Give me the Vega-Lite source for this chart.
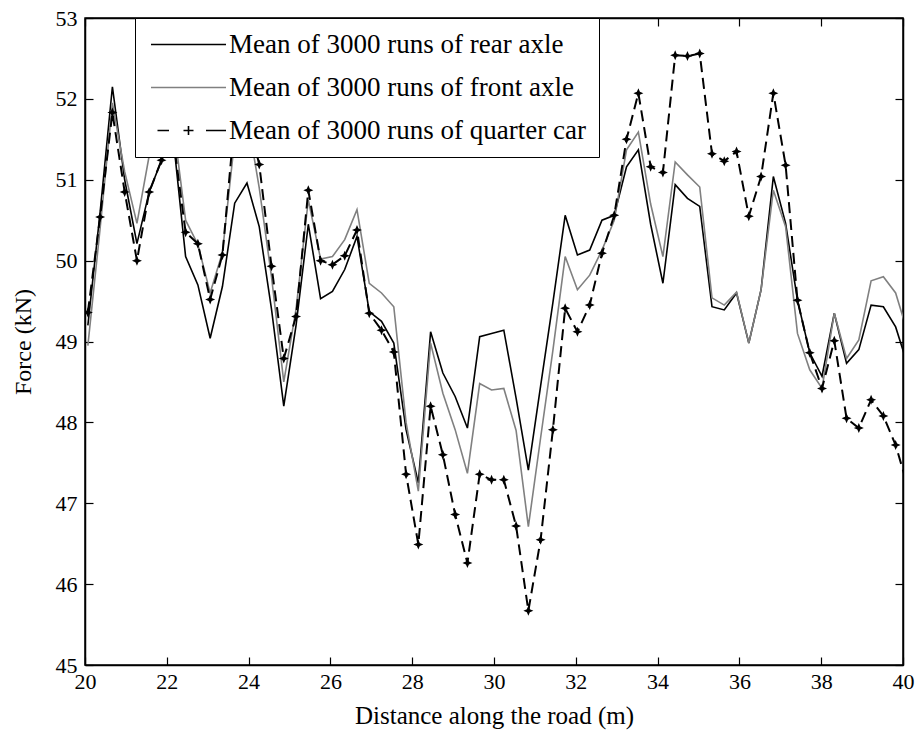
{
  "$schema": "https://vega.github.io/schema/vega-lite/v6.json",
  "width": 818,
  "height": 647,
  "autosize": {"type": "none"},
  "padding": {"left": 85, "top": 18, "right": 14, "bottom": 67},
  "background": "white",
  "config": {
    "view": {"stroke": "black", "strokeWidth": 1.5},
    "font": "Liberation Serif",
    "axis": {
      "grid": false,
      "domainColor": "black",
      "domainWidth": 1.5,
      "tickColor": "black",
      "tickWidth": 1.2,
      "tickSize": -8,
      "labelFont": "Liberation Serif",
      "labelFontSize": 22,
      "labelColor": "black",
      "titleFont": "Liberation Serif",
      "titleFontWeight": "normal",
      "titleColor": "black"
    }
  },
  "data": {
    "values": [
      {"x": 20.07, "rear": 49.2, "front": 48.95, "quarter": 49.36},
      {"x": 20.37, "rear": 50.6, "front": 50.4, "quarter": 50.54},
      {"x": 20.67, "rear": 52.15, "front": 51.95, "quarter": 51.83},
      {"x": 20.97, "rear": 51.0, "front": 51.1, "quarter": 50.85},
      {"x": 21.27, "rear": 50.21, "front": 50.46, "quarter": 50.0},
      {"x": 21.57, "rear": 50.85, "front": 51.3, "quarter": 50.85},
      {"x": 21.87, "rear": 51.24, "front": 51.6, "quarter": 51.24},
      {"x": 22.16, "rear": 51.5, "front": 51.7, "quarter": 51.5},
      {"x": 22.46, "rear": 50.05, "front": 50.5, "quarter": 50.35},
      {"x": 22.76, "rear": 49.7, "front": 50.2, "quarter": 50.21},
      {"x": 23.06, "rear": 49.04, "front": 49.6, "quarter": 49.52},
      {"x": 23.36, "rear": 49.68, "front": 50.1, "quarter": 50.07},
      {"x": 23.66, "rear": 50.71, "front": 51.5, "quarter": 51.75},
      {"x": 23.96, "rear": 50.96, "front": 51.8, "quarter": 51.8},
      {"x": 24.26, "rear": 50.42, "front": 50.9, "quarter": 51.19},
      {"x": 24.56, "rear": 49.4, "front": 49.8, "quarter": 49.93},
      {"x": 24.86, "rear": 48.2, "front": 48.5, "quarter": 48.79},
      {"x": 25.16, "rear": 49.2, "front": 49.4, "quarter": 49.31},
      {"x": 25.46, "rear": 50.45, "front": 50.75, "quarter": 50.87},
      {"x": 25.76, "rear": 49.53, "front": 50.02, "quarter": 50.0},
      {"x": 26.05, "rear": 49.62, "front": 50.05, "quarter": 49.95},
      {"x": 26.35, "rear": 49.89, "front": 50.26, "quarter": 50.06},
      {"x": 26.65, "rear": 50.3, "front": 50.63, "quarter": 50.38},
      {"x": 26.95, "rear": 49.37, "front": 49.72, "quarter": 49.35},
      {"x": 27.25, "rear": 49.25, "front": 49.6, "quarter": 49.14},
      {"x": 27.55, "rear": 48.98, "front": 49.43, "quarter": 48.87},
      {"x": 27.85, "rear": 47.91, "front": 48.0, "quarter": 47.36},
      {"x": 28.15, "rear": 47.25, "front": 47.15, "quarter": 46.49},
      {"x": 28.45, "rear": 49.12, "front": 48.98, "quarter": 48.2},
      {"x": 28.75, "rear": 48.61, "front": 48.36, "quarter": 47.6},
      {"x": 29.05, "rear": 48.32, "front": 47.91, "quarter": 46.86},
      {"x": 29.35, "rear": 47.93, "front": 47.37, "quarter": 46.26},
      {"x": 29.65, "rear": 49.06, "front": 48.48, "quarter": 47.36},
      {"x": 29.94, "rear": 49.1, "front": 48.4, "quarter": 47.29},
      {"x": 30.24, "rear": 49.14, "front": 48.42, "quarter": 47.29},
      {"x": 30.54, "rear": 48.3, "front": 47.9, "quarter": 46.72},
      {"x": 30.84, "rear": 47.41, "front": 46.71, "quarter": 45.67},
      {"x": 31.14, "rear": 48.45, "front": 47.81, "quarter": 46.55},
      {"x": 31.44, "rear": 49.48, "front": 48.89, "quarter": 47.91},
      {"x": 31.74, "rear": 50.56, "front": 50.05, "quarter": 49.41},
      {"x": 32.04, "rear": 50.07, "front": 49.64, "quarter": 49.12},
      {"x": 32.34, "rear": 50.13, "front": 49.82, "quarter": 49.45},
      {"x": 32.64, "rear": 50.5, "front": 50.13, "quarter": 50.09},
      {"x": 32.94, "rear": 50.56, "front": 50.5, "quarter": 50.56},
      {"x": 33.24, "rear": 51.16, "front": 51.37, "quarter": 51.5},
      {"x": 33.53, "rear": 51.37, "front": 51.59, "quarter": 52.07},
      {"x": 33.83, "rear": 50.45, "front": 50.7, "quarter": 51.16},
      {"x": 34.13, "rear": 49.72, "front": 50.05, "quarter": 51.09},
      {"x": 34.43, "rear": 50.94, "front": 51.22, "quarter": 52.54},
      {"x": 34.73, "rear": 50.77, "front": 51.06, "quarter": 52.53},
      {"x": 35.03, "rear": 50.67, "front": 50.91, "quarter": 52.56},
      {"x": 35.33, "rear": 49.43, "front": 49.54, "quarter": 51.32},
      {"x": 35.63, "rear": 49.39, "front": 49.45, "quarter": 51.23},
      {"x": 35.93, "rear": 49.6, "front": 49.61, "quarter": 51.35},
      {"x": 36.23, "rear": 48.98, "front": 48.98, "quarter": 50.55},
      {"x": 36.53, "rear": 49.64, "front": 49.64, "quarter": 51.04},
      {"x": 36.83, "rear": 51.04, "front": 50.87, "quarter": 52.07},
      {"x": 37.13, "rear": 50.46, "front": 50.42, "quarter": 51.18},
      {"x": 37.42, "rear": 49.51, "front": 49.1, "quarter": 49.51},
      {"x": 37.72, "rear": 48.86, "front": 48.65, "quarter": 48.86},
      {"x": 38.02, "rear": 48.57, "front": 48.42, "quarter": 48.42},
      {"x": 38.32, "rear": 49.35, "front": 49.35, "quarter": 49.01},
      {"x": 38.62, "rear": 48.73, "front": 48.79, "quarter": 48.05},
      {"x": 38.92, "rear": 48.9, "front": 49.02, "quarter": 47.93},
      {"x": 39.22, "rear": 49.45, "front": 49.75, "quarter": 48.28},
      {"x": 39.52, "rear": 49.43, "front": 49.8, "quarter": 48.08},
      {"x": 39.82, "rear": 49.18, "front": 49.6, "quarter": 47.72},
      {"x": 40.12, "rear": 48.7, "front": 49.1, "quarter": 47.2}
    ]
  },
  "transform": [{"fold": ["rear", "front", "quarter"], "as": ["series", "force"]}],
  "layer": [
    {
      "transform": [{"filter": "datum.series !== 'quarter'"}],
      "mark": {"type": "line", "clip": true, "strokeWidth": 1.6},
      "encoding": {
        "x": {"field": "x", "type": "quantitative", "scale": {"domain": [20, 40], "nice": false, "zero": false},
              "axis": {"orient": "bottom", "values": [20, 22, 24, 26, 28, 30, 32, 34, 36, 38, 40], "title": "Distance along the road (m)", "titleFontSize": 25, "labelPadding": 14, "titlePadding": 11, "labelFlush": false}},
        "y": {"field": "force", "type": "quantitative", "scale": {"domain": [45, 53], "nice": false, "zero": false},
              "axis": {"orient": "left", "values": [45, 46, 47, 48, 49, 50, 51, 52, 53], "title": "Force (kN)", "titleFontSize": 24, "labelPadding": 16, "titlePadding": 20, "labelFlush": false}},
        "color": {
          "field": "series", "type": "nominal",
          "scale": {"domain": ["rear", "front", "quarter"], "range": ["black", "#808080", "black"]},
          "legend": {
            "title": null,
            "orient": "none",
            "legendX": 50,
            "legendY": 0,
            "padding": 13,
            "rowPadding": 15,
            "symbolSize": 400,
            "symbolOffset": 27,
            "symbolStrokeWidth": 1.6,
            "labelFont": "Liberation Serif",
            "labelFontSize": 27,
            "labelColor": "black",
            "labelOffset": 27,
            "labelLimit": 600,
            "strokeColor": "black",
            "fillColor": "white",
            "zindex": 2,
            "labelExpr": "datum.value === 'rear' ? 'Mean of 3000 runs of rear axle' : datum.value === 'front' ? 'Mean of 3000 runs of front axle' : 'Mean of 3000 runs of quarter car'",
            "encode": {
              "symbols": {
                "update": {
                  "shape": {"signal": "datum.value === 'quarter' ? 'M-3.1,0L-1.95,0M-0.5,0L0.5,0M0,-0.45L0,0.45M1.75,0L3.75,0' : 'M-3.75,0L3.75,0'"},
                  "fill": {"value": "transparent"}
                }
              }
            }
          }
        }
      }
    },
    {
      "transform": [{"filter": "datum.series === 'quarter'"}],
      "mark": {"type": "line", "clip": true, "strokeWidth": 2, "strokeDash": [11, 6]},
      "encoding": {
        "x": {"field": "x", "type": "quantitative", "axis": {"orient": "top", "values": [20, 22, 24, 26, 28, 30, 32, 34, 36, 38, 40], "labels": false, "title": null}},
        "y": {"field": "force", "type": "quantitative", "axis": {"orient": "right", "values": [45, 46, 47, 48, 49, 50, 51, 52, 53], "labels": false, "title": null}},
        "color": {"field": "series", "type": "nominal"}
      }
    },
    {
      "transform": [{"filter": "datum.series === 'quarter'"}],
      "mark": {"type": "point", "clip": true, "filled": true, "color": "black", "opacity": 1, "size": 100,
               "shape": "M0,-1L0.3,-0.3L1,0L0.3,0.3L0,1L-0.3,0.3L-1,0L-0.3,-0.3Z"},
      "encoding": {
        "x": {"field": "x", "type": "quantitative", "axis": null},
        "y": {"field": "force", "type": "quantitative", "axis": null}
      }
    }
  ],
  "resolve": {"axis": {"x": "independent", "y": "independent"}}
}
